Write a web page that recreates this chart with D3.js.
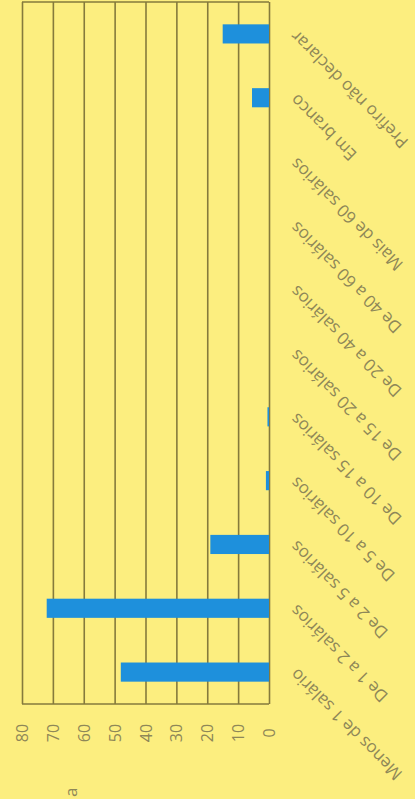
<!DOCTYPE html>
<html>
<head>
<meta charset="utf-8">
<script src="https://cdn.jsdelivr.net/npm/d3@7"></script>
<style>
html,body{margin:0;padding:0;background:#FCEE7F;}
svg{display:block;}
</style>
</head>
<body>
<svg id="chart" width="415" height="799"></svg>
<script>
// Data (original category order, from first to last)
const categories = [
  "Menos de 1 salário",
  "De 1 a 2 salários",
  "De 2 a 5 salários",
  "De 5 a 10 salários",
  "De 10 a 15 salários",
  "De 15 a 20 salários",
  "De 20 a 40 salários",
  "De 40 a 60 salários",
  "Mais de 60 salários",
  "Em branco",
  "Prefiro não declarar"
];
const values = [48, 72, 19, 1, 0.5, 0, 0, 0, 0, 5.5, 15];
const tickValues = [0, 10, 20, 30, 40, 50, 60, 70, 80];
const titleText = "a";

(function () {
const svg = d3.select("#chart");
const bg = "#FCEE7F", gridColor = "#857A3C", textColor = "#8E8758", barColor = "#1E90DC";
const font = "'Open Sans', sans-serif";

const pLeft = 22, pRight = 269, pTop = 2, pBottom = 704;

const x = d3.scaleLinear().domain([0, 80]).range([pRight, pLeft]);
const y = d3.scaleBand().domain(categories).range([pBottom, pTop])
  .paddingInner(0.7).paddingOuter(0.35);

svg.append("rect").attr("width", 415).attr("height", 799).attr("fill", bg);

// grid lines via axis
const grid = svg.append("g").attr("transform", `translate(0,${pBottom})`)
  .call(d3.axisBottom(x).tickValues(tickValues).tickSize(-(pBottom - pTop)).tickFormat(""));
grid.select(".domain").remove();
grid.selectAll("line").attr("stroke", gridColor).attr("stroke-width", 1.6);

// frame top & bottom lines
svg.append("line").attr("x1", x(80)).attr("x2", x(0)).attr("y1", pTop).attr("y2", pTop)
  .attr("stroke", gridColor).attr("stroke-width", 1.6);
svg.append("line").attr("x1", x(80)).attr("x2", x(0)).attr("y1", pBottom).attr("y2", pBottom)
  .attr("stroke", gridColor).attr("stroke-width", 1.6);

// bars
svg.append("g").selectAll("rect").data(categories).join("rect")
  .attr("x", (d, i) => x(values[i]))
  .attr("y", d => y(d))
  .attr("width", (d, i) => x(0) - x(values[i]))
  .attr("height", y.bandwidth())
  .attr("fill", barColor);

// value axis labels (rotated)
const vAxis = svg.append("g").attr("transform", `translate(0,${pBottom})`)
  .call(d3.axisBottom(x).tickValues(tickValues).tickSize(0).tickPadding(0));
vAxis.select(".domain").remove();
vAxis.selectAll("text")
  .attr("font-family", font).attr("font-size", 16).attr("fill", textColor)
  .attr("transform", "translate(0,29) rotate(-90)")
  .attr("text-anchor", "middle").attr("dy", "0.35em").attr("y", 0);

// category axis labels (rotated)
const cAxis = svg.append("g").attr("transform", `translate(${pRight},0)`)
  .call(d3.axisRight(y).tickSize(0).tickPadding(0));
cAxis.select(".domain").remove();
cAxis.selectAll("text")
  .attr("font-family", font).attr("font-size", 17).attr("fill", textColor)
  .attr("x", 0).attr("dy", 0)
  .attr("transform", "translate(24,0) rotate(-135)")
  .attr("text-anchor", "end").attr("dominant-baseline", "central");

// partial title
svg.append("text").attr("transform", "translate(71,797) rotate(-90)")
  .attr("font-family", font).attr("font-size", 17).attr("fill", textColor)
  .attr("text-anchor", "start").attr("dy", "0.35em").text(titleText);
})();
</script>
</body>
</html>
